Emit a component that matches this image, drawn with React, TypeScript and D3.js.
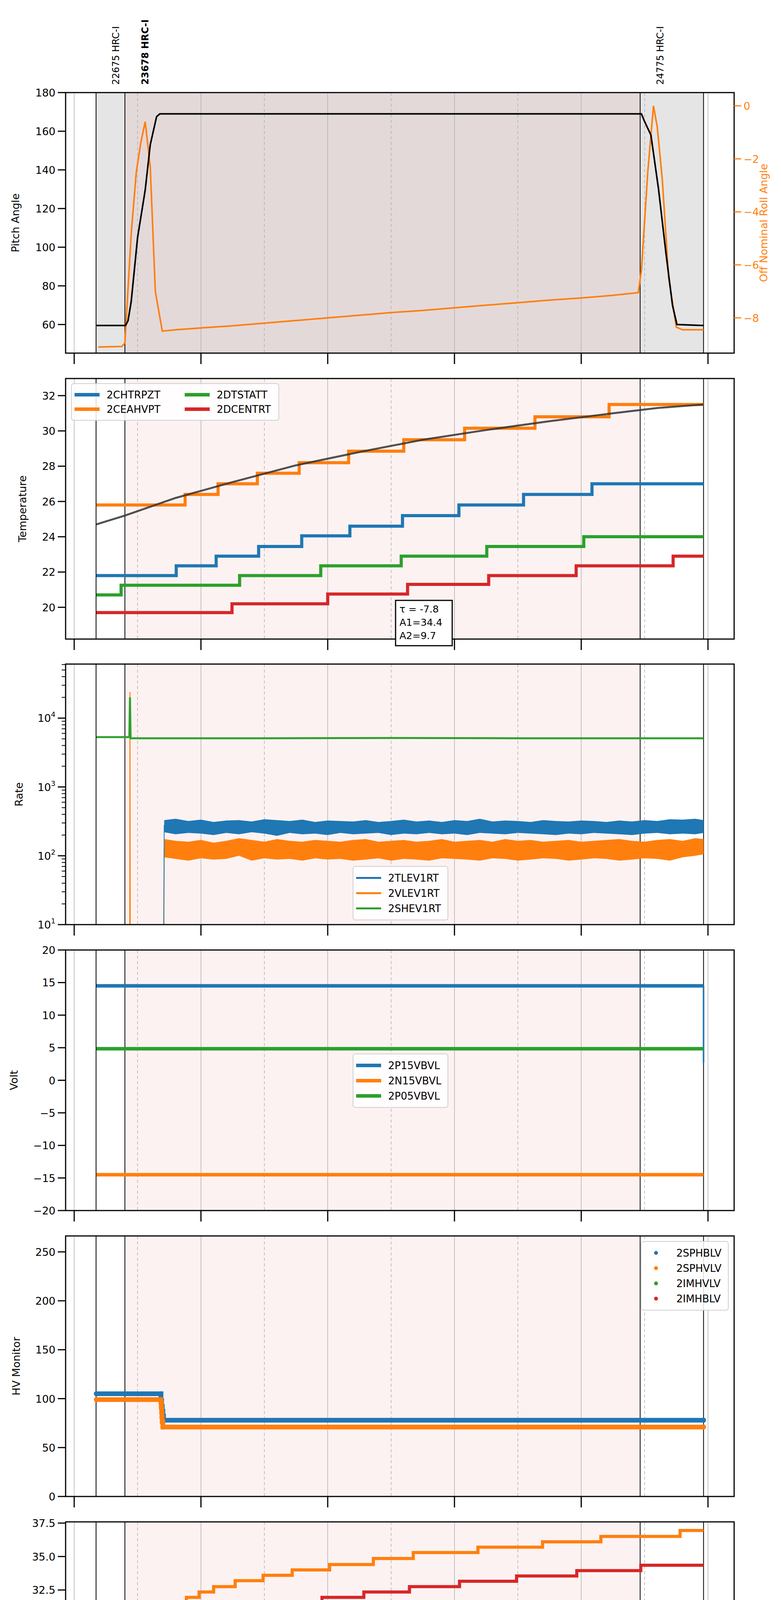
import React from "react";
import * as d3 from "d3";

const C = { blue: "#1f77b4", orange: "#ff7f0e", green: "#2ca02c", red: "#d62728" };
const FONT = "DejaVu Sans";

// time markers (hours)
const obsLines = [8.345, 8.8, 16.93, 17.93];
const obsLabels = [
  { t: 8.66, text: "22675 HRC-I", bold: false },
  { t: 9.12, text: "23678 HRC-I", bold: true },
  { t: 17.25, text: "24775 HRC-I", bold: false },
];
const T_END = 17.93;

// panel 1
const pitchHours = [8.35, 8.81, 8.85, 8.9, 9.0, 9.12, 9.2, 9.3, 9.35, 16.95, 17.0, 17.1, 17.22, 17.34, 17.44, 17.51, 17.93];
const pitchVals = [59.5, 59.5, 62, 72, 105, 129.5, 153, 167.5, 169, 169, 165, 158, 130, 96, 70, 60, 59.5];
const rollHours = [8.38, 8.75, 8.8, 8.9, 8.98, 9.05, 9.12, 9.2, 9.28, 9.39, 9.6, 10.0, 10.5, 11.0, 11.5, 12.0, 12.5, 13.0, 13.5, 14.0, 14.5, 15.0, 15.5, 16.0, 16.5, 16.9, 16.95, 17.05, 17.14, 17.2, 17.28, 17.38, 17.5, 17.6, 17.93];
const rollVals = [-9.1, -9.08, -8.95, -4.8, -2.5, -1.4, -0.6, -2.3, -7.0, -8.5, -8.45, -8.38, -8.3, -8.2, -8.1, -8.0, -7.9, -7.8, -7.72, -7.62, -7.52, -7.43, -7.33, -7.25, -7.15, -7.05, -6.2, -2.5, 0, -0.8, -2.8, -6.5, -8.35, -8.45, -8.45];

// panel 2
const tempNames = ["2CHTRPZT", "2CEAHVPT", "2DTSTATT", "2DCENTRT"];
const chtrpztT = [8.35, 9.61, 10.24, 10.91, 11.59, 12.35, 13.18, 14.07, 15.09, 16.17];
const chtrpztV = [21.8, 22.35, 22.9, 23.45, 24.05, 24.6, 25.2, 25.8, 26.4, 27.0];
const ceahvptT = [8.35, 9.75, 10.27, 10.89, 11.55, 12.33, 13.2, 14.16, 15.27, 16.44];
const ceahvptV = [25.8, 26.4, 27.0, 27.6, 28.2, 28.85, 29.5, 30.15, 30.8, 31.5];
const dtstattT = [8.35, 8.74, 10.61, 11.89, 13.16, 14.51, 16.04];
const dtstattV = [20.7, 21.25, 21.8, 22.35, 22.9, 23.45, 24.0];
const dcentrtT = [8.35, 10.49, 12.0, 13.26, 14.54, 15.92, 17.45];
const dcentrtV = [19.7, 20.2, 20.75, 21.3, 21.8, 22.35, 22.9];
const fitHours = [8.35, 8.8, 9.6, 10.5, 11.5, 12.5, 13.5, 14.5, 15.5, 16.5, 17.2, 17.93];
const fitVals = [24.7, 25.2, 26.2, 27.1, 28.05, 28.8, 29.5, 30.05, 30.55, 31.0, 31.3, 31.5];
const fitText = ["τ = -7.8", "A1=34.4", "A2=9.7"];

// panel 3 (rates)
const rateNames = ["2TLEV1RT", "2VLEV1RT", "2SHEV1RT"];
const bandHours = [9.42, 9.6, 9.8, 10.0, 10.2, 10.4, 10.6, 10.8, 11.0, 11.2, 11.4, 11.6, 11.8, 12.0, 12.2, 12.4, 12.6, 12.8, 13.0, 13.2, 13.4, 13.6, 13.8, 14.0, 14.2, 14.4, 14.6, 14.8, 15.0, 15.2, 15.4, 15.6, 15.8, 16.0, 16.2, 16.4, 16.6, 16.8, 17.0, 17.2, 17.4, 17.6, 17.8, 17.93];
const tlevHi = [330, 345, 320, 335, 310, 325, 330, 315, 340, 330, 320, 335, 310, 325, 320, 315, 330, 310, 320, 335, 315, 325, 310, 330, 320, 345, 315, 325, 320, 310, 330, 320, 315, 325, 320, 310, 325, 315, 330, 320, 340, 335, 345, 330];
const tlevLo = [220, 205, 215, 210, 200, 215, 205, 220, 210, 195, 215, 205, 210, 200, 215, 205, 210, 215, 200, 210, 205, 215, 205, 210, 200, 215, 210, 205, 215, 210, 205, 200, 210, 205, 215, 210, 205, 200, 210, 215, 205, 210, 205, 215];
const vlevHi = [175, 165, 160, 170, 155, 165, 180, 170, 160, 175, 165, 160, 170, 165, 160, 170, 175, 160, 165, 170, 160, 165, 175, 160, 165, 170, 160, 175, 165, 170, 160, 165, 170, 160, 165, 170, 175, 165, 160, 170, 175, 165, 180, 175];
const vlevLo = [95, 90, 85, 92, 88, 90, 100, 85, 92, 88, 90, 85, 92, 88, 90, 85, 88, 92, 85, 90, 88, 85, 92, 90, 88, 85, 92, 90, 85, 88, 92, 90, 85, 88, 92, 90, 85, 88, 92, 90, 85, 95, 100, 105];
const shevHours = [8.35, 8.87, 8.88, 8.89, 9.5, 11, 13, 15, 17, 17.93];
const shevVals = [5300, 5300, 20000, 5100, 5100, 5100, 5150, 5100, 5100, 5100];
const vlevEdgeHours = [8.875, 8.88, 8.885, 9.41, 9.42];
const vlevEdgeVals = [1, 24000, 1, 1, 130];

// panel 4
const voltNames = ["2P15VBVL", "2N15VBVL", "2P05VBVL"];
const p15Hours = [8.35, 17.93, 17.93];
const p15Vals = [14.5, 14.5, 2.7];
const n15Hours = [8.35, 17.93];
const n15Vals = [-14.5, -14.5];
const p05Hours = [8.35, 17.93];
const p05Vals = [4.85, 4.85];

// panel 5
const hvNames = ["2SPHBLV", "2SPHVLV", "2IMHVLV", "2IMHBLV"];
const sphblvHours = [8.35, 9.36, 9.37, 9.38, 9.39, 9.4, 9.41, 17.93];
const sphblvVals = [105, 105, 98, 92, 87, 82, 78, 78];
const sphvlvHours = [8.35, 9.36, 9.37, 9.375, 9.38, 9.385, 9.39, 9.4, 17.93];
const sphvlvVals = [99, 99, 96, 91, 86, 81, 76, 71, 71];

// panel 6
const detNames = ["2SPINATM", "2SPHVATM", "2IMINATM", "2IMHVATM"];
const spinatmT = [8.35, 9.67, 11.52, 13.27, 15.2, 17.56];
const spinatmV = [18.95, 19.65, 20.3, 21.0, 21.7, 22.4];
const sphvatmT = [8.35, 9.0, 9.05, 9.1, 9.15, 9.2, 9.25, 9.3, 9.61, 9.77, 9.97, 10.2, 10.54, 10.98, 11.44, 12.03, 12.72, 13.35, 14.37, 15.39, 16.31, 17.56];
const sphvatmV = [30.7, 31.1, 30.7, 31.1, 30.7, 31.1, 30.7, 31.1, 31.55, 31.95, 32.35, 32.75, 33.2, 33.6, 34.0, 34.4, 34.85, 35.3, 35.7, 36.1, 36.5, 36.95];
const iminatmT = [8.35, 8.81, 11.47, 13.41, 15.5];
const iminatmV = [20.3, 21.0, 21.7, 22.4, 23.1];
const imhvatmT = [8.35, 9.0, 9.1, 9.15, 9.25, 9.35, 10.19, 10.72, 11.31, 11.91, 12.57, 13.29, 14.08, 14.98, 15.93, 16.94];
const imhvatmV = [29.95, 30.35, 29.95, 30.35, 29.95, 30.35, 30.75, 31.15, 31.55, 31.95, 32.35, 32.75, 33.15, 33.55, 33.95, 34.35];

// panel 7
const feaNames = ["2FHTRMZT", "2FRADPYT", "2FEPRATM", "2FE00ATM"];
const fhtrmztT = [8.35, 8.55, 10.16, 11.16, 12.33, 13.69, 15.31];
const fhtrmztV = [24.05, 24.6, 25.2, 25.8, 26.4, 27.0, 27.6];
const fradpytT = [8.35, 8.96, 9.44, 9.83, 10.63, 11.72, 12.96, 14.38, 16.06, 17.34];
const fradpytV = [20.2, 19.0, 20.2, 20.75, 21.3, 21.85, 22.4, 22.95, 23.5, 22.95];
const fepratmT = [8.35, 10.99, 12.88, 15.25];
const fepratmV = [26.2, 26.95, 27.75, 28.6];
const fe00atmT = [8.35, 9.75, 10.48, 11.19, 12.11, 13.09, 14.16, 15.38, 16.83, 17.93];
const fe00atmV = [23.95, 24.25, 24.6, 24.95, 25.3, 25.65, 25.95, 26.3, 26.65, 25.3];
const fe00SpikeHours = [9.62, 9.82, 9.97, 10.09, 10.29, 10.39, 10.5, 10.89, 11.59, 11.81, 12.04, 12.09, 12.38, 12.81, 13.11, 13.15, 13.81, 13.99, 14.11, 14.71, 14.94, 15.14, 15.2, 15.91, 16.03, 16.07, 16.29, 16.4, 16.48, 16.52, 16.88, 17.0, 17.13, 17.38, 17.48, 17.62, 17.69, 17.81];
const fe00SpikeVals = [24.65, 25.3, 23.95, 23.95, 23.6, 24.65, 25.3, 24.25, 24.6, 23.9, 24.6, 23.9, 26.0, 24.6, 26.0, 26.0, 26.0, 26.0, 25.3, 27.0, 26.35, 26.35, 26.35, 25.95, 25.95, 27.4, 25.95, 26.7, 25.95, 26.7, 27.4, 27.0, 26.0, 26.3, 27.8, 27.0, 26.3, 26.3];

// layout
const W = 2000, H = 5400;
const L = 168, R = 1880, PH = 667;
const tops = [237, 969, 1700, 2432, 3164, 3896, 4627];
const x = d3.scaleLinear().domain([8, 18]).range([190, 1813]);

const pts = (t: number[], v: number[]) => t.map((h, i) => [h, v[i]] as [number, number]);
const stepPts = (t: number[], v: number[]) => [...pts(t, v), [T_END, v[v.length - 1]] as [number, number]];

type Sc = d3.ScaleLinear<number, number> | d3.ScaleLogarithmic<number, number>;
const lineOf = (y: Sc, step = false) =>
  d3.line<[number, number]>().x((d) => x(d[0])).y((d) => y(d[1])).curve(step ? d3.curveStepAfter : d3.curveLinear);

const Legend = ({ x0, y0, w, names, cols = 1, rowH = 43, lw = 9, dots = false }: any) => {
  const rows = Math.ceil(names.length / cols);
  const colors = [C.blue, C.orange, C.green, C.red];
  return (
    <g>
      <rect x={x0} y={y0} width={w} height={rows * rowH + 20} rx={6} fill="white" fillOpacity={0.85} stroke="#d0d0d0" strokeWidth={2} />
      {names.map((n: string, i: number) => {
        const c = Math.floor(i / rows), r = i % rows;
        const cx = x0 + 8 + c * 282, cy = y0 + 10 + rowH * r + rowH / 2;
        return (
          <g key={n}>
            {dots ? <circle cx={cx + 30} cy={cy} r={5} fill={colors[i]} /> : <line x1={cx} x2={cx + 64} y1={cy} y2={cy} stroke={colors[i]} strokeWidth={lw} />}
            <text x={cx + 82} y={cy + 9} fontSize={26} fontFamily={FONT}>{n}</text>
          </g>
        );
      })}
    </g>
  );
};

const Panel = ({ idx, y, ticks, fmt, label, labelX, children, log = false, last = false, grey = false }: any) => {
  const top = tops[idx], bot = top + PH;
  const id = `clip${idx}`;
  const minor: number[] = [];
  if (log) for (let e = 1; e <= 4; e++) for (let m = 2; m <= 9; m++) { const v = m * 10 ** e; if (v < y.domain()[1]) minor.push(v); }
  return (
    <g>
      <defs><clipPath id={id}><rect x={L} y={top} width={R - L} height={PH} /></clipPath></defs>
      {grey && <rect x={x(obsLines[0])} y={top} width={x(obsLines[3]) - x(obsLines[0])} height={PH} fill="#e5e5e5" />}
      <rect x={x(obsLines[1])} y={top} width={x(obsLines[2]) - x(obsLines[1])} height={PH} fill={C.red} fillOpacity={0.06} />
      {d3.range(8, 19).map((h) => (
        <line key={h} x1={x(h)} x2={x(h)} y1={top} y2={bot} stroke="#b0b0b0" strokeWidth={1.5} strokeDasharray={h % 2 ? "8,6" : undefined} />
      ))}
      {obsLines.map((t, i) => <line key={i} x1={x(t)} x2={x(t)} y1={top} y2={bot} stroke="black" strokeWidth={2} />)}
      <g clipPath={`url(#${id})`}>{children}</g>
      <rect x={L} y={top} width={R - L} height={PH} fill="none" stroke="black" strokeWidth={3} />
      {ticks.map((v: number) => (
        <g key={v}>
          <line x1={L - 20} x2={L} y1={y(v)} y2={y(v)} stroke="black" strokeWidth={3} />
          <text x={L - 26} y={y(v) + 10} textAnchor="end" fontSize={27} fontFamily={FONT}>
            {log ? <>10<tspan dy={-13} fontSize={18}>{Math.log10(v)}</tspan></> : fmt(v)}
          </text>
        </g>
      ))}
      {minor.map((v) => <line key={v} x1={L - 10} x2={L} y1={y(v)} y2={y(v)} stroke="black" strokeWidth={2} />)}
      {d3.range(8, 19, 2).map((h) => <line key={h} x1={x(h)} x2={x(h)} y1={bot} y2={bot + 28} stroke="black" strokeWidth={3} />)}
      {last && d3.range(8, 19, 2).map((h) => (
        <text key={h} x={x(h)} y={bot + 60} textAnchor="middle" fontSize={28} fontFamily={FONT}>{`${String(h).padStart(2, "0")}h`}</text>
      ))}
      {last && d3.range(9, 18, 2).map((h) => (
        <text key={h} x={x(h)} y={bot + 22} textAnchor="middle" fontSize={16} fontFamily={FONT}>{`${String(h).padStart(2, "0")}h`}</text>
      ))}
      <text transform={`translate(${labelX},${(top + bot) / 2}) rotate(-90)`} textAnchor="middle" fontSize={27} fontFamily={FONT}>{label}</text>
    </g>
  );
};

export default function App() {
  const f0 = (v: number) => d3.format("d")(v).replace("-", "−");
  const y1 = d3.scaleLinear().domain([45.2, 180]).range([tops[0] + PH, tops[0]]);
  const y1r = d3.scaleLinear().domain([-9.33, 0.5]).range([tops[0] + PH, tops[0]]);
  const y2 = d3.scaleLinear().domain([18.2, 32.97]).range([tops[1] + PH, tops[1]]);
  const y3 = d3.scaleLog().domain([10, 61000]).range([tops[2] + PH, tops[2]]);
  const y4 = d3.scaleLinear().domain([-20, 20]).range([tops[3] + PH, tops[3]]);
  const y5 = d3.scaleLinear().domain([0, 266.3]).range([tops[4] + PH, tops[4]]);
  const y6 = d3.scaleLinear().domain([18.12, 37.59]).range([tops[5] + PH, tops[5]]);
  const y7 = d3.scaleLinear().domain([19.76, 30.1]).range([tops[6] + PH, tops[6]]);

  const area = (lo: number[], hi: number[]) =>
    d3.area<number>().x((_, i) => x(bandHours[i])).y0((_, i) => y3(lo[i])).y1((_, i) => y3(hi[i]))(bandHours) || "";

  const stepAt = (t: number) => {
    let v = fe00atmV[0];
    fe00atmT.forEach((h, i) => { if (h <= t) v = fe00atmV[i]; });
    return v;
  };

  return (
    <svg width={W} height={H} style={{ display: "block", background: "white", position: "absolute", left: 0, top: 0 }}>
      {obsLabels.map((o) => (
        <text key={o.text} transform={`translate(${x(o.t) + 8},217) rotate(-90)`} fontSize={24} fontFamily={FONT} fontWeight={o.bold ? "bold" : "normal"}>{o.text}</text>
      ))}

      <Panel idx={0} y={y1} ticks={d3.range(60, 181, 20)} fmt={f0} label="Pitch Angle" labelX={49} grey>
        <path d={lineOf(y1r)(pts(rollHours, rollVals)) || ""} fill="none" stroke={C.orange} strokeWidth={4} />
        <path d={lineOf(y1)(pts(pitchHours, pitchVals)) || ""} fill="none" stroke="black" strokeWidth={4} />
      </Panel>
      {[0, -2, -4, -6, -8].map((v) => (
        <g key={v}>
          <line x1={R} x2={R + 18} y1={y1r(v)} y2={y1r(v)} stroke={C.orange} strokeWidth={3} />
          <text x={R + 24} y={y1r(v) + 10} fontSize={27} fontFamily={FONT} fill={C.orange}>{f0(v)}</text>
        </g>
      ))}
      <text transform={`translate(1965,${tops[0] + PH / 2}) rotate(-90)`} textAnchor="middle" fontSize={27} fontFamily={FONT} fill={C.orange}>Off Nominal Roll Angle</text>

      <Panel idx={1} y={y2} ticks={d3.range(20, 33, 2)} fmt={f0} label="Temperature" labelX={67}>
        <path d={lineOf(y2, true)(stepPts(chtrpztT, chtrpztV)) || ""} fill="none" stroke={C.blue} strokeWidth={8} />
        <path d={lineOf(y2, true)(stepPts(ceahvptT, ceahvptV)) || ""} fill="none" stroke={C.orange} strokeWidth={8} />
        <path d={lineOf(y2, true)(stepPts(dtstattT, dtstattV)) || ""} fill="none" stroke={C.green} strokeWidth={8} />
        <path d={lineOf(y2, true)(stepPts(dcentrtT, dcentrtV)) || ""} fill="none" stroke={C.red} strokeWidth={8} />
        <path d={lineOf(y2)(pts(fitHours, fitVals)) || ""} fill="none" stroke="#333" strokeOpacity={0.85} strokeWidth={5} />
      </Panel>
      <Legend x0={183} y0={982} w={531} names={tempNames} cols={2} rowH={37} />
      <rect x={1013} y={1537} width={145} height={116} fill="white" stroke="black" strokeWidth={3} />
      {fitText.map((s, i) => <text key={s} x={1023} y={1568 + i * 34} fontSize={25} fontFamily={FONT}>{s}</text>)}

      <Panel idx={2} y={y3} ticks={[10, 100, 1000, 10000]} label="Rate" labelX={58} log>
        <path d={area(tlevLo, tlevHi)} fill={C.blue} />
        <path d={area(vlevLo, vlevHi)} fill={C.orange} />
        <path d={lineOf(y3)(pts(vlevEdgeHours, vlevEdgeVals)) || ""} fill="none" stroke={C.orange} strokeWidth={2.5} />
        <path d={lineOf(y3)([[9.41, 1], [9.42, 280]]) || ""} fill="none" stroke={C.blue} strokeWidth={2} />
        <path d={lineOf(y3)(pts(shevHours, shevVals)) || ""} fill="none" stroke={C.green} strokeWidth={5} />
        <path d={lineOf(y3)(pts(shevHours, shevVals).slice(1, 4)) || ""} fill="none" stroke={C.green} strokeWidth={2.5} />
      </Panel>
      <Legend x0={904} y0={2218} w={243} names={rateNames} rowH={39} lw={5} />

      <Panel idx={3} y={y4} ticks={d3.range(-20, 21, 5)} fmt={f0} label="Volt" labelX={45}>
        <path d={lineOf(y4)(pts(p15Hours, p15Vals).slice(0, 2)) || ""} fill="none" stroke={C.blue} strokeWidth={9} />
        <path d={lineOf(y4)(pts(p15Hours, p15Vals).slice(1)) || ""} fill="none" stroke={C.blue} strokeWidth={4} />
        <path d={lineOf(y4)(pts(n15Hours, n15Vals)) || ""} fill="none" stroke={C.orange} strokeWidth={9} />
        <path d={lineOf(y4)(pts(p05Hours, p05Vals)) || ""} fill="none" stroke={C.green} strokeWidth={9} />
      </Panel>
      <Legend x0={904} y0={2698} w={243} names={voltNames} rowH={39} />

      <Panel idx={4} y={y5} ticks={d3.range(0, 251, 50)} fmt={f0} label="HV Monitor" labelX={51}>
        {[
          { t: sphblvHours, v: sphblvVals, c: C.blue },
          { t: sphvlvHours, v: sphvlvVals, c: C.orange },
        ].map((s) => (
          <g key={s.c}>
            <path d={lineOf(y5, true)(pts(s.t, s.v)) || ""} fill="none" stroke={s.c} strokeWidth={12} strokeLinecap="round" />
            {s.t.map((h, i) => <circle key={i} cx={x(h)} cy={y5(s.v[i])} r={6.5} fill={s.c} />)}
          </g>
        ))}
      </Panel>
      <Legend x0={1642} y0={3178} w={223} names={hvNames} rowH={39} dots />

      <Panel idx={5} y={y6} ticks={d3.range(20, 37.6, 2.5)} fmt={d3.format(".1f")} label="Detector Temp" labelX={42}>
        <path d={lineOf(y6, true)(stepPts(spinatmT, spinatmV)) || ""} fill="none" stroke={C.blue} strokeWidth={8} />
        <path d={lineOf(y6, true)(stepPts(sphvatmT, sphvatmV)) || ""} fill="none" stroke={C.orange} strokeWidth={8} />
        <path d={lineOf(y6, true)(stepPts(iminatmT, iminatmV)) || ""} fill="none" stroke={C.green} strokeWidth={8} />
        <path d={lineOf(y6, true)(stepPts(imhvatmT, imhvatmV)) || ""} fill="none" stroke={C.red} strokeWidth={8} />
      </Panel>
      <Legend x0={904} y0={4141} w={243} names={detNames} rowH={39} />

      <Panel idx={6} y={y7} ticks={d3.range(20, 30.1, 2)} fmt={f0} label="FEA Temp" labelX={67} last>
        <path d={lineOf(y7, true)(stepPts(fhtrmztT, fhtrmztV)) || ""} fill="none" stroke={C.blue} strokeWidth={8} />
        <path d={lineOf(y7, true)(stepPts(fradpytT, fradpytV)) || ""} fill="none" stroke={C.orange} strokeWidth={8} />
        <path d={lineOf(y7, true)(stepPts(fepratmT, fepratmV)) || ""} fill="none" stroke={C.green} strokeWidth={8} />
        <path d={lineOf(y7, true)(pts(fe00atmT, fe00atmV)) || ""} fill="none" stroke={C.red} strokeWidth={8} />
        {fe00SpikeHours.map((h, i) => (
          <line key={i} x1={x(h)} x2={x(h)} y1={y7(stepAt(h))} y2={y7(fe00SpikeVals[i])} stroke={C.red} strokeWidth={5} strokeLinecap="round" />
        ))}
      </Panel>
      <Legend x0={183} y0={4642} w={252} names={feaNames} rowH={39} />
      <text x={(L + R) / 2} y={5392} textAnchor="middle" fontSize={32} fontFamily={FONT}>2021-08-25 (237)</text>
    </svg>
  );
}
